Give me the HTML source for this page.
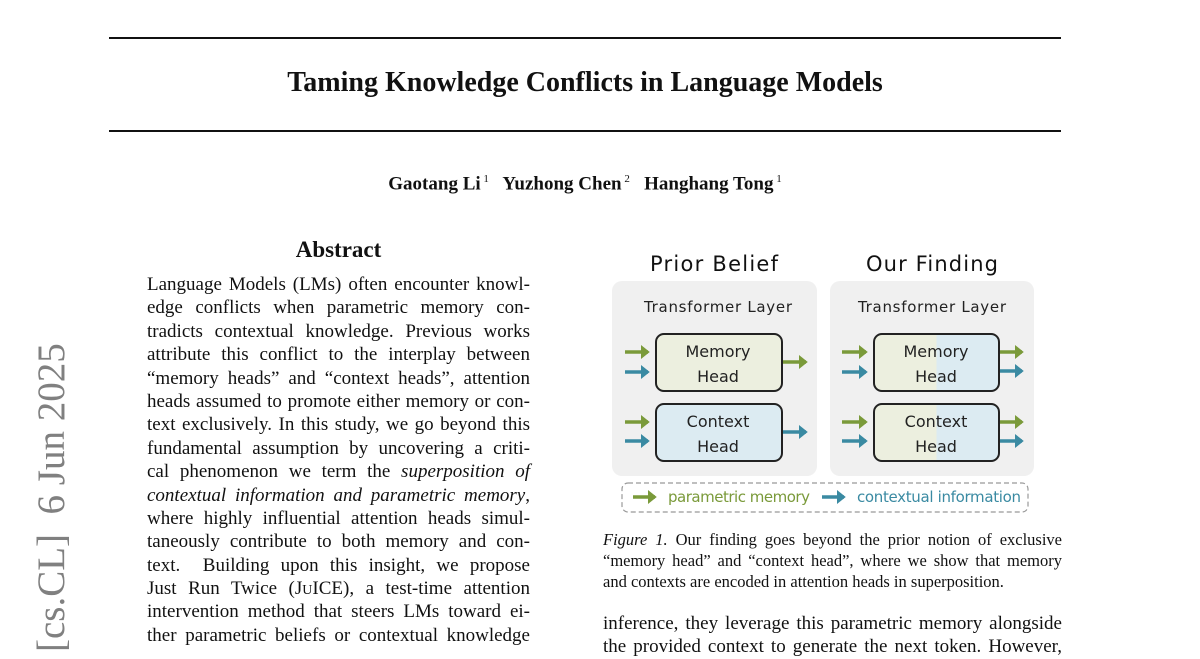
<!DOCTYPE html>
<html><head><meta charset="utf-8"><style>
body{margin:0;width:1200px;height:648px;background:#fff;position:relative;overflow:hidden;font-family:"Liberation Serif",serif;color:#111}
.a{position:absolute}
.hr{position:absolute;left:109px;width:952px;height:2px;background:#111}
.ab div{height:23.4px;line-height:23.4px;text-align:justify;text-align-last:justify;white-space:nowrap}
.cap div{height:21px;line-height:21px;white-space:nowrap;text-align:justify;text-align-last:justify}
</style></head><body>
<div class="hr" style="top:37px"></div>
<div class="hr" style="top:130px"></div>
<div class="a" style="left:0;width:1170px;top:67px;text-align:center;font-size:28px;font-weight:bold">Taming Knowledge Conflicts in Language Models</div>
<div class="a" style="left:0;width:1170px;top:173px;text-align:center;font-size:19px;font-weight:bold">Gaotang Li<sup style="font-weight:normal;font-size:11px"> 1</sup>&nbsp;&nbsp; Yuzhong Chen<sup style="font-weight:normal;font-size:11px"> 2</sup>&nbsp;&nbsp; Hanghang Tong<sup style="font-weight:normal;font-size:11px"> 1</sup></div>
<div class="a" style="left:147px;width:383px;top:237px;text-align:center;font-size:23px;font-weight:bold">Abstract</div>
<div class="a ab" style="left:147px;width:383px;top:273px;font-size:19px">
<div>Language Models (LMs) often encounter knowl-</div>
<div>edge conflicts when parametric memory con-</div>
<div>tradicts contextual knowledge. Previous works</div>
<div>attribute this conflict to the interplay between</div>
<div>“memory heads” and “context heads”, attention</div>
<div>heads assumed to promote either memory or con-</div>
<div>text exclusively. In this study, we go beyond this</div>
<div>fundamental assumption by uncovering a criti-</div>
<div>cal phenomenon we term the <i>superposition of</i></div>
<div><i>contextual information and parametric memory</i>,</div>
<div>where highly influential attention heads simul-</div>
<div>taneously contribute to both memory and con-</div>
<div>text. &nbsp;Building upon this insight, we propose</div>
<div>Just Run Twice (J<span style="font-size:14px">U</span>ICE), a test-time attention</div>
<div>intervention method that steers LMs toward ei-</div>
<div>ther parametric beliefs or contextual knowledge</div>
</div>
<div class="a" style="left:52px;top:652px;transform-origin:0 0;transform:rotate(-90deg) translate(0,-22px);font-size:39px;color:#808080;white-space:nowrap;line-height:44px">[cs.CL]&nbsp; 6 Jun 2025</div>
<svg class="a" style="left:0;top:0" width="1200" height="648">
<defs>
<marker id="g" markerWidth="4" markerHeight="4" refX="2" refY="2" orient="auto" markerUnits="strokeWidth"><path d="M0,0 L2.5,2 L0,4z" fill="#7a9a3a"/></marker>
<marker id="b" markerWidth="4" markerHeight="4" refX="2" refY="2" orient="auto" markerUnits="strokeWidth"><path d="M0,0 L2.5,2 L0,4z" fill="#3a8aa2"/></marker>
<linearGradient id="sp" x1="0" x2="1"><stop offset="0.5" stop-color="#ecefdf"/><stop offset="0.5" stop-color="#dcebf2"/></linearGradient>
</defs>
<g font-family="'DejaVu Sans',sans-serif" text-anchor="middle" fill="#111">
<text x="714" y="271" font-size="21" textLength="128">Prior Belief</text>
<text x="932" y="271" font-size="21" textLength="132">Our Finding</text>
<rect x="612" y="281" width="205" height="195" rx="10" fill="#f0f0f0"/>
<rect x="830" y="281" width="204" height="195" rx="10" fill="#f0f0f0"/>
<text x="718" y="312" font-size="15" fill="#222" textLength="148">Transformer Layer</text>
<text x="932" y="312" font-size="15" fill="#222" textLength="148">Transformer Layer</text>
<rect x="656" y="334" width="126" height="57" rx="8" fill="#ecefdf" stroke="#222" stroke-width="2"/>
<rect x="656" y="404" width="126" height="57" rx="8" fill="#dcebf2" stroke="#222" stroke-width="2"/>
<rect x="874" y="334" width="125" height="57" rx="8" fill="url(#sp)" stroke="#222" stroke-width="2"/>
<rect x="874" y="404" width="125" height="57" rx="8" fill="url(#sp)" stroke="#222" stroke-width="2"/>
<g font-size="16" fill="#222">
<text x="718" y="357">Memory</text><text x="718" y="382">Head</text>
<text x="718" y="427">Context</text><text x="718" y="452">Head</text>
<text x="936" y="357">Memory</text><text x="936" y="382">Head</text>
<text x="936" y="427">Context</text><text x="936" y="452">Head</text>
</g>
<g stroke-width="3.5">
<line x1="625" y1="352" x2="648" y2="352" stroke="#7a9a3a" marker-end="url(#g)"/>
<line x1="625" y1="372" x2="648" y2="372" stroke="#3a8aa2" marker-end="url(#b)"/>
<line x1="625" y1="422" x2="648" y2="422" stroke="#7a9a3a" marker-end="url(#g)"/>
<line x1="625" y1="441" x2="648" y2="441" stroke="#3a8aa2" marker-end="url(#b)"/>
<line x1="783" y1="362" x2="806" y2="362" stroke="#7a9a3a" marker-end="url(#g)"/>
<line x1="783" y1="432" x2="806" y2="432" stroke="#3a8aa2" marker-end="url(#b)"/>
<line x1="842" y1="352" x2="866" y2="352" stroke="#7a9a3a" marker-end="url(#g)"/>
<line x1="842" y1="372" x2="866" y2="372" stroke="#3a8aa2" marker-end="url(#b)"/>
<line x1="842" y1="422" x2="866" y2="422" stroke="#7a9a3a" marker-end="url(#g)"/>
<line x1="842" y1="441" x2="866" y2="441" stroke="#3a8aa2" marker-end="url(#b)"/>
<line x1="1000" y1="352" x2="1022" y2="352" stroke="#7a9a3a" marker-end="url(#g)"/>
<line x1="1000" y1="371" x2="1022" y2="371" stroke="#3a8aa2" marker-end="url(#b)"/>
<line x1="1000" y1="422" x2="1022" y2="422" stroke="#7a9a3a" marker-end="url(#g)"/>
<line x1="1000" y1="441" x2="1022" y2="441" stroke="#3a8aa2" marker-end="url(#b)"/>
<line x1="633" y1="497" x2="655" y2="497" stroke="#7a9a3a" marker-end="url(#g)"/>
<line x1="822" y1="497" x2="844" y2="497" stroke="#3a8aa2" marker-end="url(#b)"/>
</g>
<rect x="622" y="483" width="406" height="29" rx="6" fill="none" stroke="#999" stroke-width="1.2" stroke-dasharray="5,3"/>
<text x="668" y="502" font-size="15" fill="#7a9a3a" text-anchor="start" textLength="142">parametric memory</text>
<text x="857" y="502" font-size="15" fill="#3a8aa2" text-anchor="start" textLength="164">contextual information</text>
</g>
</svg>
<div class="a cap" style="left:603px;width:459px;top:529px;font-size:16.5px">
<div><i>Figure 1.</i> Our finding goes beyond the prior notion of exclusive</div>
<div>“memory head” and “context head”, where we show that memory</div>
<div style="text-align-last:left">and contexts are encoded in attention heads in superposition.</div>
</div>
<div class="a ab" style="left:603px;width:459px;top:612px;font-size:19px">
<div>inference, they leverage this parametric memory alongside</div>
<div>the provided context to generate the next token. However,</div>
</div>
</body></html>
